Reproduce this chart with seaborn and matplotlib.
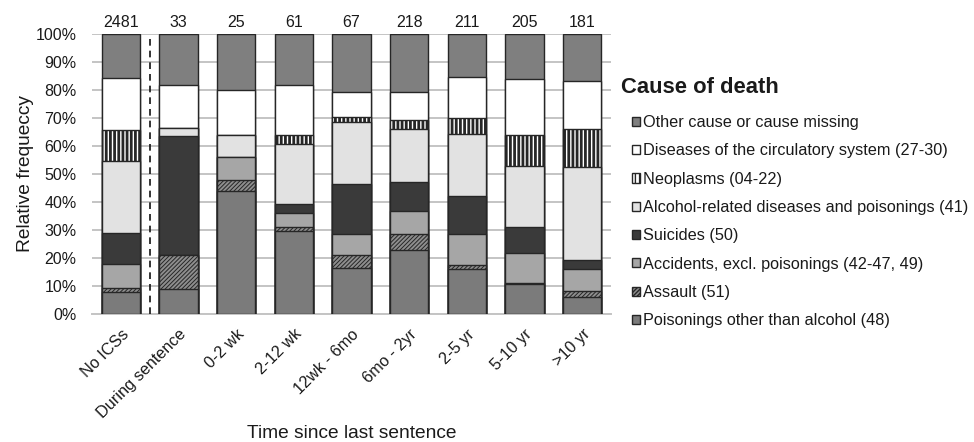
import matplotlib
matplotlib.use("Agg")
import matplotlib.pyplot as plt
import matplotlib.patches as mpatches
import numpy as np
import seaborn as sns

# Time since last sentence (x categories) and number of deaths per group
categories = ["No ICSs", "During sentence", "0-2 wk", "2-12 wk", "12wk - 6mo",
              "6mo - 2yr", "2-5 yr", "5-10 yr", ">10 yr"]
totals = [2481, 33, 25, 61, 67, 218, 211, 205, 181]

# Share of deaths (%) by cause, listed from the bottom of each stack upward
poisonings = [8.0, 9.1, 44.0, 29.5, 16.4, 22.9, 16.1, 10.7, 6.1]
assault = [1.4, 12.1, 4.0, 1.6, 4.5, 5.5, 1.4, 0.5, 2.2]
accidents = [8.6, 0.0, 8.0, 4.9, 7.5, 8.3, 10.9, 10.7, 7.7]
suicides = [11.0, 42.4, 0.0, 3.3, 17.9, 10.6, 13.7, 9.3, 3.3]
alcohol = [25.6, 3.0, 8.0, 21.3, 22.4, 18.8, 22.3, 21.5, 33.1]
neoplasms = [11.1, 0.0, 0.0, 3.3, 1.5, 3.2, 5.7, 11.2, 13.8]
circulatory = [18.5, 15.2, 16.0, 18.0, 9.0, 10.1, 14.7, 20.0, 17.1]
other = [15.8, 18.2, 20.0, 18.0, 20.9, 20.6, 15.2, 16.1, 16.6]

cause_labels = [
    "Poisonings other than alcohol (48)",
    "Assault (51)",
    "Accidents, excl. poisonings (42-47, 49)",
    "Suicides (50)",
    "Alcohol-related diseases and poisonings (41)",
    "Neoplasms (04-22)",
    "Diseases of the circulatory system (27-30)",
    "Other cause or cause missing",
]
cause_values = [poisonings, assault, accidents, suicides, alcohol,
                neoplasms, circulatory, other]

# fill colour, hatch, hatch line width for each cause (same order)
styles = [
    ("#7b7b7b", None, 1.0),
    ("#8e8e8e", "////////", 0.7),
    ("#a6a6a6", None, 1.0),
    ("#3a3a3a", None, 1.0),
    ("#e2e2e2", None, 1.0),
    ("#ffffff", "||||", 2.0),
    ("#ffffff", None, 1.0),
    ("#7f7f7f", None, 1.0),
]
edge = "#262626"

sns.set_style("white")
plt.rcParams["font.family"] = ["Liberation Sans", "DejaVu Sans"]

fig = plt.figure(figsize=(9.74, 4.42), dpi=100)
ax = fig.add_axes([92 / 974, 1 - 314 / 442, (611 - 92) / 974, (314 - 34) / 442])

# stacked bars: draw cumulative totals from the top layer down so that
# each lower layer is painted over the one above it
cumulative = np.cumsum(np.array(cause_values), axis=0)
for k in range(len(cause_values) - 1, -1, -1):
    face, hatch, hlw = styles[k]
    n_before = len(ax.patches)
    sns.barplot(x=categories, y=cumulative[k], order=categories, color=face,
                saturation=1, width=0.66, edgecolor=edge, linewidth=1.0,
                hatch=hatch, errorbar=None, ax=ax, zorder=3)
    for p in ax.patches[n_before:]:
        if hasattr(p, "set_hatch_linewidth"):
            p.set_hatch_linewidth(hlw)

# separator between the reference group and the post-sentence groups
ax.axvline(0.5, ymin=0, ymax=1, color="#111111", lw=1.2, ls=(0, (4, 3)), zorder=4)

# group sizes above the bars
for i, n in enumerate(totals):
    ax.text(i, 102.6, str(n), ha="center", va="baseline", fontsize=11.5,
            color="#1a1a1a", clip_on=False)

ax.set_xlim(-0.5, len(categories) - 0.5)
ax.set_ylim(0, 100)
ax.set_yticks(np.arange(0, 101, 10))
ax.set_yticklabels([f"{v}%" for v in range(0, 101, 10)])
ax.yaxis.grid(True, color="#c4c4c4", lw=1.4, zorder=0)
ax.set_axisbelow(True)
for side in ["left", "right", "top"]:
    ax.spines[side].set_visible(False)
ax.spines["bottom"].set_color("#c4c4c4")
ax.spines["bottom"].set_linewidth(1.4)
ax.tick_params(axis="y", length=0, pad=11, labelsize=11.5, labelcolor="#1a1a1a")
ax.tick_params(axis="x", length=0, pad=9, labelsize=11.7, labelcolor="#1a1a1a")
plt.setp(ax.get_xticklabels(), rotation=45, ha="right", rotation_mode="anchor")

ax.set_ylabel("Relative frequeccy", fontsize=13.8, color="#1a1a1a")
ax.yaxis.set_label_coords(-0.112, 0.5)
ax.set_xlabel("Time since last sentence", fontsize=13.8, color="#1a1a1a")
ax.xaxis.set_label_coords(0.5, -0.395)

# legend, top layer first
handles = []
for k in range(len(cause_values) - 1, -1, -1):
    face, hatch, hlw = styles[k]
    h = mpatches.Patch(facecolor=face, edgecolor=edge, hatch=hatch, lw=1.0,
                       label=cause_labels[k])
    handles.append(h)
leg = fig.legend(handles=handles, loc="upper left",
                 bbox_to_anchor=(632 / 974, 1 - 115 / 442),
                 frameon=False, fontsize=11.7, borderpad=0, borderaxespad=0,
                 handlelength=0.5, handleheight=0.5, handletextpad=0.2,
                 labelspacing=0.82)
for t in leg.get_texts():
    t.set_color("#1a1a1a")
fig.text(621 / 974, 1 - 93 / 442, "Cause of death", fontsize=15.8,
         fontweight="bold", color="#1a1a1a", ha="left", va="baseline")

fig.savefig("out.png", dpi=100)
